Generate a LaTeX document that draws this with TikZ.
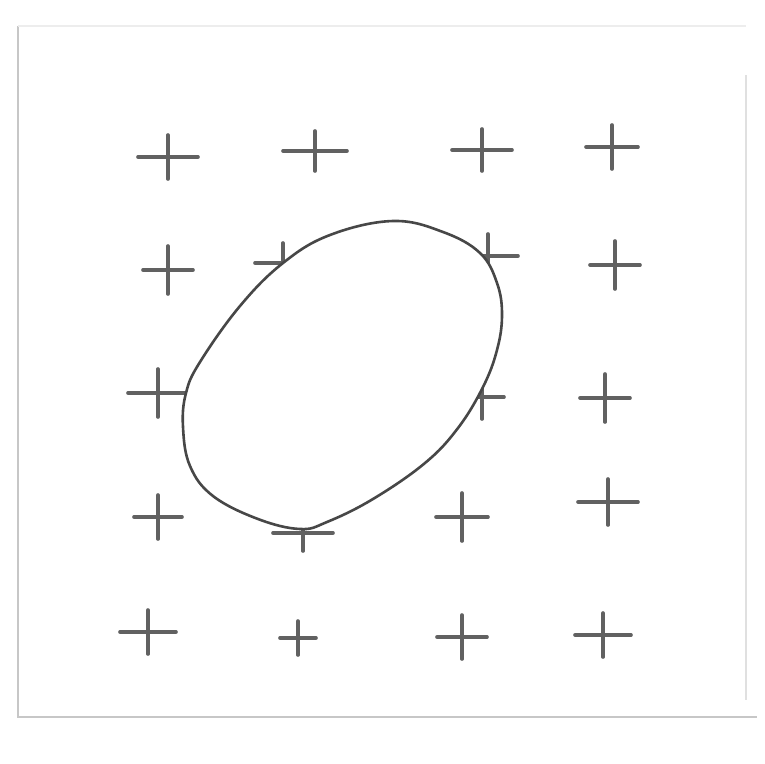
\documentclass[tikz,border=0pt]{standalone}
\begin{document}
\begin{tikzpicture}[x=1pt,y=-1pt,
  pencil/.style={draw=black!62, line width=3.6pt, line cap=round},
  frameline/.style={draw=black!22, line width=1.4pt},
  outline/.style={draw=black!72, line width=2.6pt, fill=white},
  pics/crossmark/.style n args={2}{code={
    \draw[pencil] (-#1,0) -- (#1,0);
    \draw[pencil] (0,-#2) -- (0,#2);}}]
\useasboundingbox (0,0) rectangle (765,763);
\fill[white] (0,0) rectangle (765,763);
% frame
\coordinate (tl) at (18,26);
\coordinate (bl) at (18,717);
\coordinate (br) at (757,717);
\coordinate (tr) at (746,26);
\coordinate (rb) at (746,700);
\draw[frameline] (tl) -- (bl) -- (br);
\draw[frameline, draw=black!7] (tl) -- (tr);
\draw[frameline, draw=black!12] (746,75) -- (rb);
% crosses
\pic at (168,157) {crossmark={30}{22}};
\pic at (315,151) {crossmark={32}{20}};
\pic at (482,150) {crossmark={30}{21}};
\pic at (612,147) {crossmark={26}{22}};
\pic at (168,270) {crossmark={25}{24}};
\pic at (283,263) {crossmark={28}{20}};
\pic at (488,256) {crossmark={30}{22}};
\pic at (615,265) {crossmark={25}{24}};
\pic at (158,393) {crossmark={30}{24}};
\pic at (482,397) {crossmark={22}{22}};
\pic at (605,398) {crossmark={25}{24}};
\pic at (158,517) {crossmark={24}{22}};
\pic at (303,533) {crossmark={30}{18}};
\pic at (462,517) {crossmark={26}{24}};
\pic at (608,502) {crossmark={30}{23}};
\pic at (148,632) {crossmark={28}{22}};
\pic at (298,638) {crossmark={18}{17}};
\pic at (462,637) {crossmark={25}{22}};
\pic at (603,635) {crossmark={28}{22}};
% egg-shaped ellipse
\draw[outline] plot[smooth cycle, tension=0.65] coordinates {
  (393,221) (443,232) (480,253) (497,283) (502,315)
  (497,350) (483,387) (458,428) (425,463) (373,499) (327,522)
  (300,529) (258,519) (213,496) (190,466) (183,427) (186,393)
  (200,362) (240,306) (283,263) (330,235)};
\end{tikzpicture}
\end{document}
